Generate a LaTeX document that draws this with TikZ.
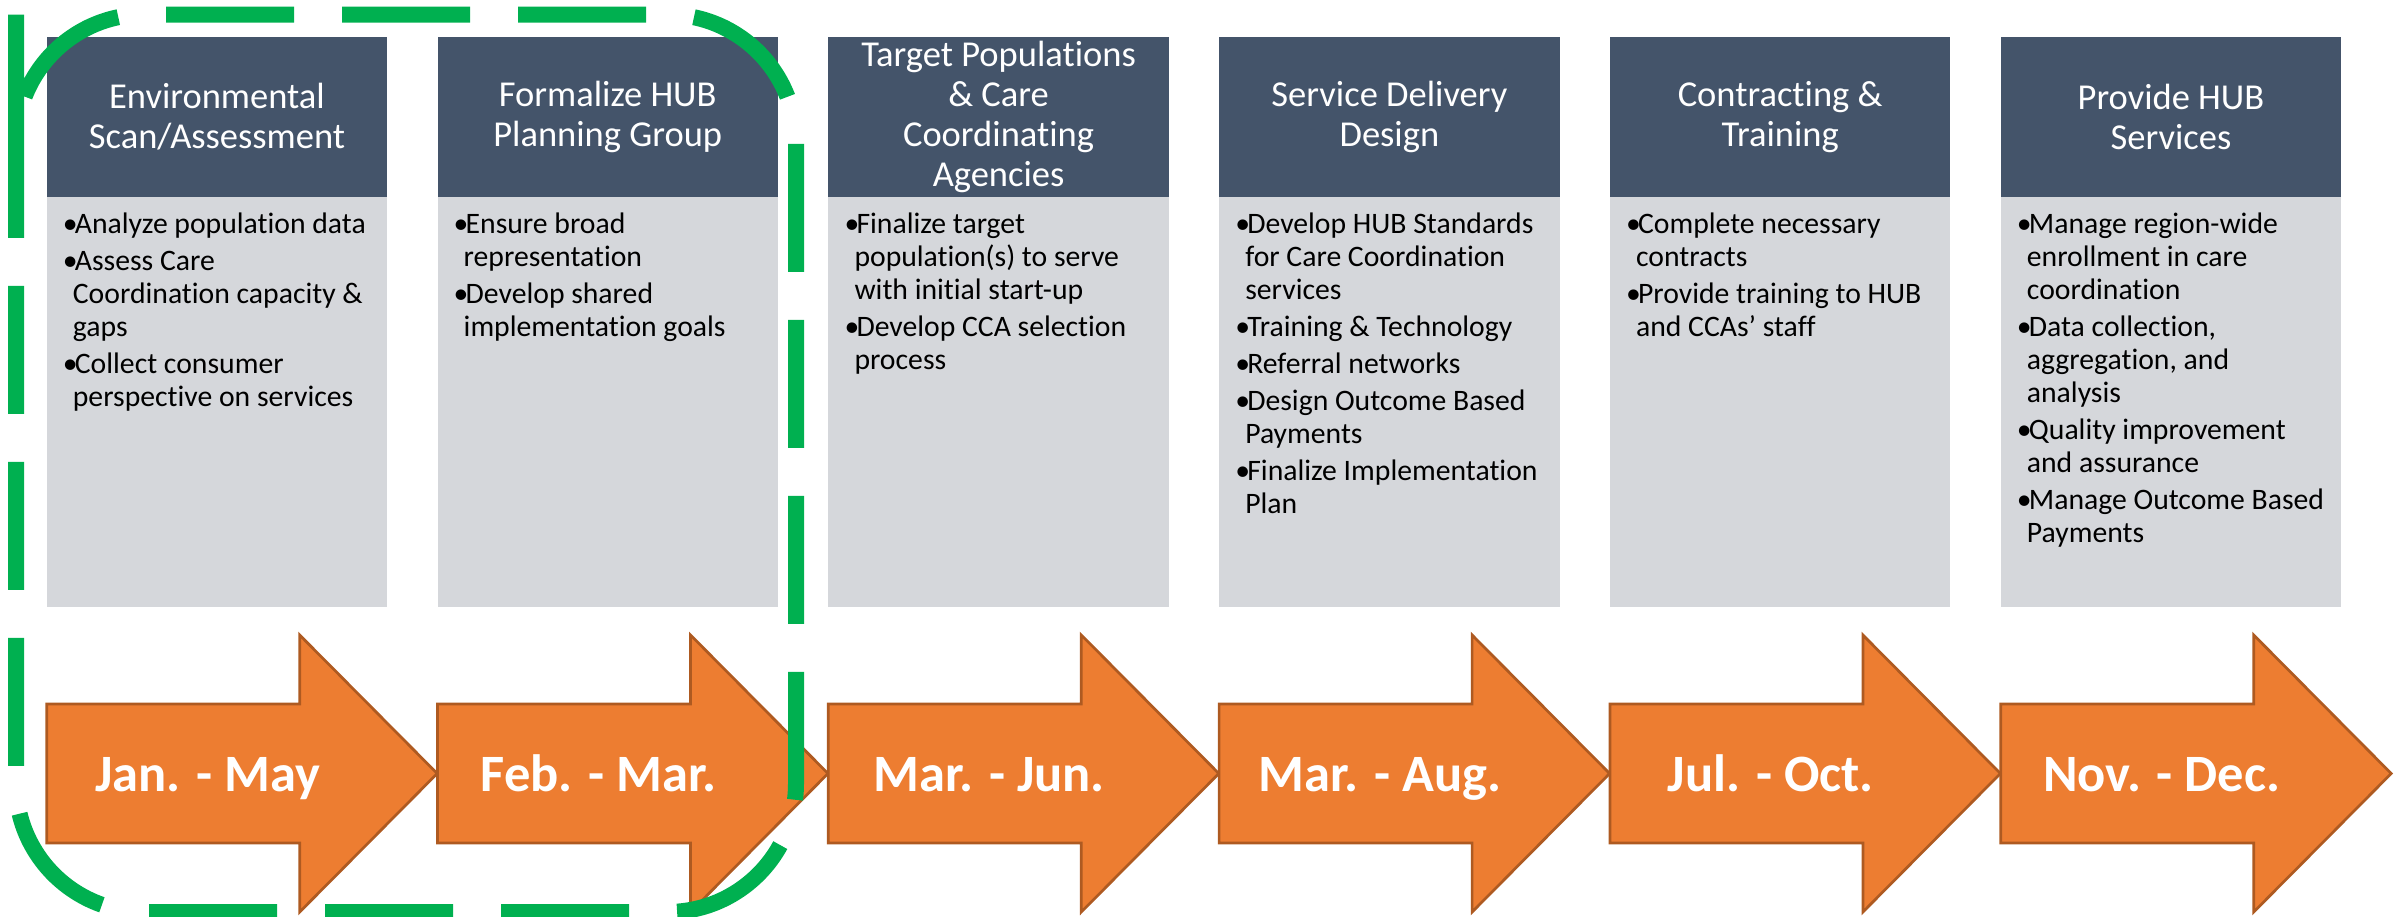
\documentclass[tikz,border=0pt]{standalone}
\usepackage{fontspec}
\setmainfont{Carlito}[Ligatures=NoCommon]
\definecolor{hdr}{HTML}{44546A}
\definecolor{bodyg}{HTML}{D5D7DB}
\definecolor{orng}{HTML}{ED7D31}
\definecolor{orngd}{HTML}{AE5A21}
\definecolor{grn}{HTML}{00B050}
\newcommand\bitem[1]{\par\hangindent=10pt\hangafter=1\noindent\makebox[12pt][l]{•}#1}
\newcommand\bodytext[1]{\parbox[t]{330pt}{\fontsize{29.7pt}{33pt}\selectfont\raggedright\def\\{\newline}\parskip=4pt\parindent=0pt #1}}
\tikzset{
  hdrbox/.style={fill=hdr, draw=none, inner sep=0pt, minimum width=340.5pt, minimum height=160pt,
    text=white, align=center, font=\fontsize{36.5pt}{40pt}\selectfont},
  bodybox/.style={fill=bodyg, draw=none, inner sep=0pt, minimum width=340.5pt, minimum height=410pt},
  bodytxt/.style={anchor=base west, inner sep=0pt, text=black},
  arrowshape/.style={fill=orng, draw=orngd, line width=2.7pt, line join=miter},
  datetxt/.style={anchor=base, inner sep=0pt, text=white, font=\bfseries\fontsize{52.5pt}{64pt}\selectfont},
  greenbox/.style={draw=grn, line width=16pt, dash pattern=on 128pt off 48pt, rounded corners=128.5pt}
}
\newcommand\phase[4]{%
  \pgfmathsetmacro\xl{46.7+390.8*(#1-1)}%
  \pgfmathsetmacro\xc{\xl+170.25}%
  \node[hdrbox] (h#1) at (\xc,117) {#2};
  \node[bodybox] (b#1) at (\xc,402) {};
  \node[bodytxt] (t#1) at (\xl+16,233) {\bodytext{#3}};
  \draw[arrowshape] (\xl,704) -- (\xl+253,704) -- (\xl+253,635) -- (\xl+390.5,773.5)
     -- (\xl+253,912) -- (\xl+253,843) -- (\xl,843) -- cycle;
  \node[datetxt] (d#1) at (\xl+161,791) {#4};
}
\begin{document}
\begin{tikzpicture}[x=1pt,y=-1pt]
\useasboundingbox (0,0) rectangle (2408,916);
\phase{1}{Environmental\\Scan/Assessment}{%
  \bitem{Analyze population data}%
  \bitem{Assess Care\\Coordination capacity \&\\gaps}%
  \bitem{Collect consumer\\perspective on services}}{Jan. - May}
\phase{2}{Formalize HUB\\Planning Group}{%
  \bitem{Ensure broad\\representation}%
  \bitem{Develop shared\\implementation goals}}{Feb. - Mar.}
\phase{3}{Target Populations\\\& Care\\Coordinating\\Agencies}{%
  \bitem{Finalize target\\population(s) to serve\\with initial start-up}%
  \bitem{Develop CCA selection\\process}}{Mar. - Jun.}
\phase{4}{Service Delivery\\Design}{%
  \bitem{Develop HUB Standards\\for Care Coordination\\services}%
  \bitem{Training \& Technology}%
  \bitem{Referral networks}%
  \bitem{Design Outcome Based\\Payments}%
  \bitem{Finalize Implementation\\Plan}}{Mar. - Aug.}
\phase{5}{Contracting \&\\Training}{%
  \bitem{Complete necessary\\contracts}%
  \bitem{Provide training to HUB\\and CCAs’ staff}}{Jul. - Oct.}
\phase{6}{Provide HUB\\Services}{%
  \bitem{Manage region-wide\\enrollment in care\\coordination}%
  \bitem{Data collection,\\aggregation, and\\analysis}%
  \bitem{Quality improvement\\and assurance}%
  \bitem{Manage Outcome Based\\Payments}}{Nov. - Dec.}
\coordinate (gstart) at (16,143);
\draw[greenbox] (gstart) -- (16,14.5) -- (796,14.5) -- (796,912) -- (16,912) -- cycle;
\end{tikzpicture}
\end{document}
